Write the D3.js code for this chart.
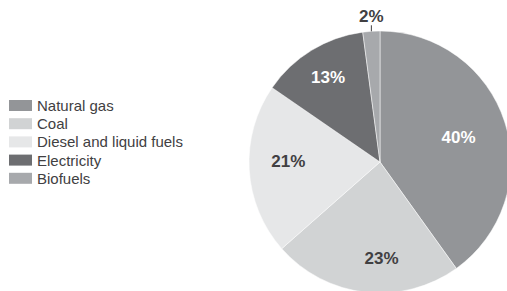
<!DOCTYPE html>
<html><head><meta charset="utf-8">
<script src="https://cdn.jsdelivr.net/npm/d3@7"></script>
<style>html,body{margin:0;padding:0;background:#fff;overflow:hidden}</style>
</head><body>
<svg id="chart" width="507" height="291"></svg>
<script>
const categories = ["Natural gas", "Coal", "Diesel and liquid fuels", "Electricity", "Biofuels"];
const values = [40.1, 23.4, 21.1, 13.3, 2.1];
const labels = ["40%", "23%", "21%", "13%", "2%"];
const colors = ["#939598", "#d1d3d4", "#e6e7e8", "#6d6e71", "#a7a9ac"];
const labelColors = ["#fff", "#414042", "#414042", "#fff", "#414042"];

const svg = d3.select("#chart");
const cx = 380, cy = 162, R = 131;
const color = d3.scaleOrdinal().domain(categories).range(colors);
const pie = d3.pie().sort(null).value(d => d.v);
const data = categories.map((c, i) => ({c, v: values[i], label: labels[i], lc: labelColors[i]}));
const arcs = pie(data);
const arc = d3.arc().innerRadius(0).outerRadius(R);
const g = svg.append("g").attr("transform", `translate(${cx},${cy})`);
g.selectAll("path").data(arcs).join("path")
  .attr("d", arc).attr("fill", d => color(d.data.c))
  .attr("stroke", "#fff").attr("stroke-width", 0.5);

const labelRadius = [0.63, 0.73, 0.70, 0.76];
const labelShift = [0, -0.13, 0.07, 0];
const font = "Liberation Sans, Arial, Helvetica, sans-serif";
arcs.forEach((a, i) => {
  if (i < 4) {
    const r = R * labelRadius[i];
    const mid = (a.startAngle + a.endAngle) / 2 + labelShift[i];
    const x = Math.sin(mid) * r, y = -Math.cos(mid) * r;
    g.append("text").attr("x", x).attr("y", y).attr("dy", "0.36em")
      .attr("text-anchor", "middle")
      .style("font-family", font)
      .style("font-weight", "bold").style("font-size", "17px")
      .attr("fill", a.data.lc).text(a.data.label);
  } else {
    const mid = (a.startAngle + a.endAngle) / 2;
    const x = Math.sin(mid) * R;
    const y0 = -Math.cos(mid) * R;
    g.append("line").attr("x1", x).attr("x2", x).attr("y1", y0).attr("y2", y0 - 6)
      .attr("stroke", "#414042").attr("stroke-width", 1);
    g.append("text").attr("x", x).attr("y", y0 - 9)
      .attr("text-anchor", "middle")
      .style("font-family", font)
      .style("font-weight", "bold").style("font-size", "17px")
      .attr("fill", a.data.lc).text(a.data.label);
  }
});

const leg = svg.append("g").attr("transform", "translate(9,100)");
const row = leg.selectAll("g").data(categories).join("g")
  .attr("transform", (d, i) => `translate(0,${i * 18.2})`);
row.append("rect").attr("width", 23).attr("height", 11).attr("fill", d => color(d));
row.append("text").attr("x", 28).attr("y", 11)
  .style("font-family", font)
  .style("font-size", "15px").attr("fill", "#414042").text(d => d);
</script>
</body></html>
